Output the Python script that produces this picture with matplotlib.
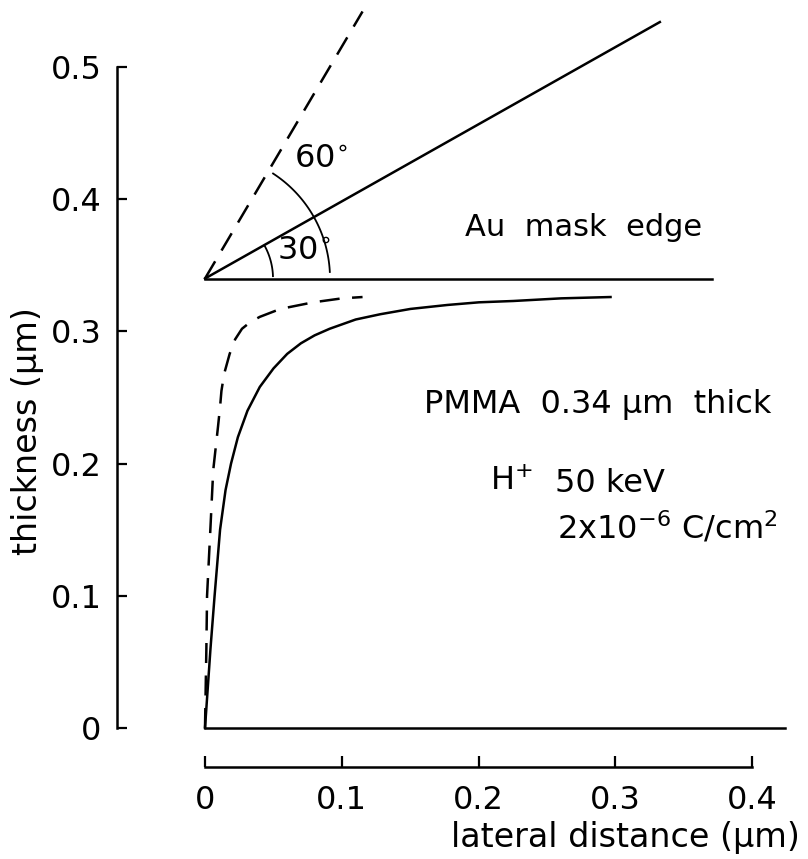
import numpy as np
import matplotlib
matplotlib.use('Agg')
import matplotlib.pyplot as plt

plt.rcParams['font.family'] = ['DejaVu Sans']
plt.rcParams['mathtext.fontset'] = 'dejavusans'

# --- datos (um) ---
# borde de la mascara de Au y sustrato
mascara_x = [0.0, 0.37]
mascara_y = [0.34, 0.34]
base_x = [0.0, 0.423]
base_y = [0.0, 0.0]
# rectas a 30 y 60 grados desde el borde
recta30_x = [0.0, 0.332]
recta30_y = [0.34, 0.534]
recta60_x = [0.0, 0.115]
recta60_y = [0.34, 0.542]
# perfil revelado (linea llena)
perfil_x = [0.0, 0.002, 0.004, 0.007, 0.011, 0.015, 0.019, 0.024, 0.031,
            0.040, 0.050, 0.060, 0.070, 0.080, 0.091, 0.110, 0.128, 0.150,
            0.177, 0.200, 0.225, 0.260, 0.296]
perfil_y = [0.0, 0.03, 0.06, 0.10, 0.15, 0.18, 0.20, 0.22, 0.24,
            0.258, 0.272, 0.283, 0.291, 0.297, 0.302, 0.309, 0.313, 0.317,
            0.320, 0.322, 0.323, 0.325, 0.326]
# perfil a trazos
perfil2_x = [0.0, 0.001, 0.0015, 0.004, 0.006, 0.0095, 0.011, 0.012, 0.014,
             0.018, 0.022, 0.027, 0.033, 0.040, 0.055, 0.079, 0.100, 0.115]
perfil2_y = [0.0, 0.06, 0.10, 0.152, 0.195, 0.228, 0.243, 0.255, 0.268,
             0.283, 0.294, 0.302, 0.307, 0.311, 0.317, 0.322, 0.325, 0.326]
yticks = [0, 0.1, 0.2, 0.3, 0.4, 0.5]
yticklabels = ['0', '0.1', '0.2', '0.3', '0.4', '0.5']
xticks = [0, 0.1, 0.2, 0.3, 0.4]
xticklabels = ['0', '0.1', '0.2', '0.3', '0.4']

W, H = 808, 859
fig = plt.figure(figsize=(W / 100, H / 100), dpi=100)

# ejes principales (solo eje y visible)
x0px, y0px = 205, 728      # origen de datos en pixeles
sx, sy = 1370, 1320         # pixeles por unidad
izq = 117
der = 808
ax = fig.add_axes([izq / W, (H - y0px) / H, (der - izq) / W, (y0px - 67) / H])
ax.set_xlim(-(x0px - izq) / sx, (der - x0px) / sx)
ax.set_ylim(0, 0.5)
for s in ['top', 'right', 'bottom']:
    ax.spines[s].set_visible(False)
ax.spines['left'].set_linewidth(1.8)
ax.set_xticks([])
ax.set_yticks(yticks)
ax.set_yticklabels(yticklabels)
ax.tick_params(axis='y', direction='in', length=7.5, width=1.6, pad=11, labelsize=23)
ax.patch.set_alpha(0)

lw = 1.8
ax.plot(mascara_x, mascara_y, color='black', lw=lw, clip_on=False)
ax.plot(base_x, base_y, color='black', lw=lw, clip_on=False)
ax.plot(recta30_x, recta30_y, color='black', lw=lw, clip_on=False)
ax.plot(recta60_x, recta60_y, color='black', lw=lw, dashes=(8, 5), clip_on=False)
ax.plot(perfil_x, perfil_y, color='black', lw=lw, clip_on=False)
ax.plot(perfil2_x, perfil2_y, color='black', lw=lw, dashes=(8, 5), clip_on=False)

# arcos de los angulos (radio en pixeles, circulo en pantalla)
for r, a1, a2 in [(125, 3, 57), (68, 2, 28)]:
    t = np.radians(np.linspace(a1, a2, 60))
    ax.plot(r * np.cos(t) / sx, 0.34 + r * np.sin(t) / sy, color='black', lw=1.3,
            clip_on=False)

# eje x separado
ax2 = fig.add_axes([x0px / W, (H - 767) / H, 547 / W, 0.0001])
ax2.set_xlim(0, 0.4)
for s in ['top', 'right', 'left']:
    ax2.spines[s].set_visible(False)
ax2.spines['bottom'].set_linewidth(1.8)
ax2.set_yticks([])
ax2.set_xticks(xticks)
ax2.set_xticklabels(xticklabels)
ax2.tick_params(axis='x', direction='in', length=8, width=1.6, pad=13, labelsize=23)
ax2.patch.set_alpha(0)


def texto(xp, yp, s, ha='left', size=23, **kw):
    fig.text(xp / W, 1 - yp / H, s, ha=ha, va='center', fontsize=size, **kw)


texto(625, 838, 'lateral distance (µm)', ha='center', size=24)
texto(28, 431, 'thickness (µm)', ha='center', size=24, rotation=90)
texto(465, 227, 'Au  mask  edge', size=22)
texto(321, 160, r'60$^{\circ}$', ha='center', size=23)
texto(277, 252, r'30$^{\circ}$', size=23)
texto(424, 405, 'PMMA  0.34 µm  thick', size=23)
texto(490, 481, r'H$^{+}$', size=23)
texto(555, 483, '50 keV', size=23)
texto(557, 528, r'2x10$^{-6}$ C/cm$^{2}$', size=23)

fig.savefig('out.png', dpi=100)
